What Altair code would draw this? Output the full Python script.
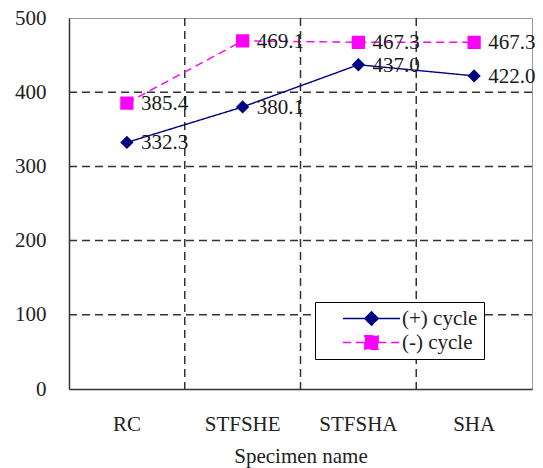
import altair as alt
import pandas as pd

# Peak load per specimen for the positive and negative loading cycles
specimens = ["RC", "STFSHE", "STFSHA", "SHA"]
pos_cycle = [332.3, 380.1, 437.0, 422.0]
neg_cycle = [385.4, 469.1, 467.3, 467.3]
series_names = ["(+) cycle", "(-) cycle"]
series_colors = ["#000080", "#ff00ff"]
y_ticks = [0, 100, 200, 300, 400, 500]
grid_levels = [100, 200, 300, 400]

rows = []
for name, vals in zip(series_names, [pos_cycle, neg_cycle]):
    for spec, val in zip(specimens, vals):
        rows.append({"specimen": spec, "load": val, "series": name})
df = pd.DataFrame(rows)

# vertical separators sit on the left edge of every band but the first
bounds = pd.DataFrame({"specimen": specimens[1:]})
levels = pd.DataFrame({"level": grid_levels})

FONT = "Liberation Serif"
FS = 21
GRID = "#333333"

x_scale = alt.Scale(type="band", domain=specimens, paddingInner=0, paddingOuter=0)
y_scale = alt.Scale(domain=[0, 500], nice=False, zero=True)

# legend symbols: marker with a short line segment on each side
diamond_path = "M-4.3,0H-1M1,0H4.3M0,-1L1,0L0,1L-1,0Z"
square_path = "M-4.3,0H-1M1,0H4.3M-1,-1H1V1H-1Z"

color_scale = alt.Scale(domain=series_names, range=series_colors)
shape_scale = alt.Scale(domain=series_names, range=[diamond_path, square_path])
dash_scale = alt.Scale(domain=series_names, range=[[1, 0], [8, 5]])

legend = alt.Legend(
    orient="none", legendX=246, legendY=284, title=None,
    labelFont=FONT, labelFontSize=FS, labelColor="#222222",
    labelExpr="datum.label + '        '",
    strokeColor="#000000", fillColor="#ffffff", padding=6,
    symbolSize=176, symbolStrokeWidth=1.5, symbolOffset=40,
    labelOffset=20, rowPadding=2,
)

x_axis = alt.Axis(
    title="Specimen name", titleFont=FONT, titleFontSize=FS,
    titleFontWeight="normal", titleColor="#222222",
    titleY=73, titleBaseline="alphabetic",
    labelFont=FONT, labelFontSize=FS, labelColor="#222222",
    labelAngle=0, labelBaseline="alphabetic", labelPadding=41,
    ticks=False, tickSize=0, grid=False,
    domainColor="#333333", domainWidth=1.5,
)
y_axis = alt.Axis(
    title=None, values=y_ticks,
    labelFont=FONT, labelFontSize=FS, labelColor="#222222",
    labelPadding=23, ticks=False, tickSize=0, grid=False,
    domainColor="#333333", domainWidth=1.5,
)

x_pos = alt.X("specimen:N", bandPosition=0.5, scale=x_scale, axis=x_axis, sort=specimens)
y_pos = alt.Y("load:Q", scale=y_scale, axis=y_axis)

vgrid = alt.Chart(bounds).mark_rule(
    color=GRID, strokeWidth=1.5, strokeDash=[8, 5]
).encode(x=alt.X("specimen:N", bandPosition=0, scale=x_scale, axis=x_axis, sort=specimens))

hgrid = alt.Chart(levels).mark_rule(
    color=GRID, strokeWidth=1.5, strokeDash=[8, 5]
).encode(y=alt.Y("level:Q", scale=y_scale, axis=y_axis))

base = alt.Chart(df)

lines = base.mark_line(strokeWidth=1.4).encode(
    x=x_pos,
    y=y_pos,
    stroke=alt.Stroke("series:N", scale=color_scale, legend=legend),
    strokeDash=alt.StrokeDash("series:N", scale=dash_scale, legend=legend),
)

points = base.mark_point(filled=True, size=176, opacity=1).encode(
    x=x_pos,
    y=y_pos,
    fill=alt.Fill("series:N", scale=color_scale, legend=legend),
    shape=alt.Shape("series:N", scale=shape_scale, legend=legend),
)

labels = base.mark_text(
    align="left", baseline="middle", dx=14, dy=1,
    font=FONT, fontSize=FS, color="#1a1a1a",
).encode(
    x=x_pos,
    y=y_pos,
    text=alt.Text("load:Q", format=".1f"),
)

chart = alt.layer(vgrid, hgrid, lines, points, labels).properties(
    width=463, height=371,
    autosize=alt.AutoSizeParams(type="none"),
    padding={"left": 69, "top": 18, "right": 11, "bottom": 79},
    background="#ffffff",
).configure_view(stroke="#999999", strokeWidth=1)

chart.save("out.html", embed_options={"renderer": "svg", "actions": False})
